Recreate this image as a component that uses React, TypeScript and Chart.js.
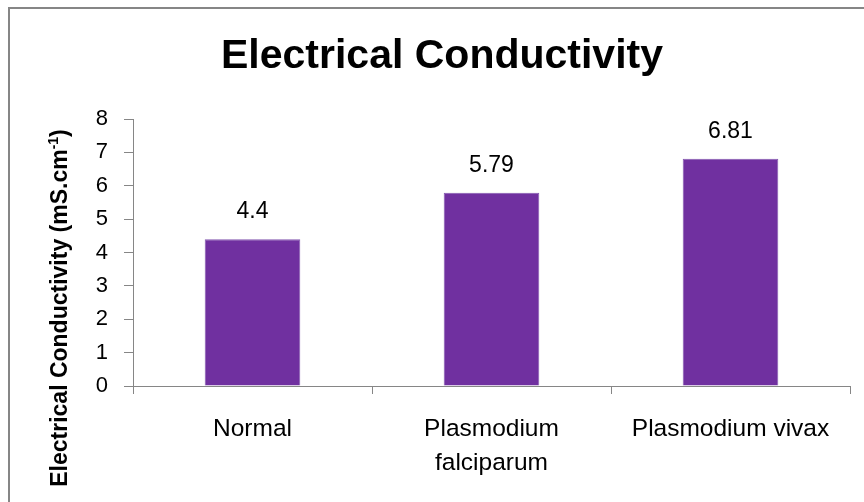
import React, { useEffect, useRef } from "react";
import { Chart, registerables } from "chart.js";

Chart.register(...registerables);

const chartTitle = "Electrical Conductivity";
const yAxisTitleMain = "Electrical Conductivity (mS.cm";
const yAxisTitleSup = "-1";
const yAxisTitleEnd = ")";
const categoryLabels: (string | string[])[] = [
  "Normal",
  ["Plasmodium", "falciparum"],
  "Plasmodium vivax",
];
const conductivityValues = [4.4, 5.79, 6.81];
const valueLabels = ["4.4", "5.79", "6.81"];
const yTickMin = 0;
const yTickMax = 8;
const yTickStep = 1;

const FONT = "'Liberation Sans', Arial, sans-serif";
const GRAY = "#868686";
const PURPLE = "#7030A0";

const decorPlugin = {
  id: "decor",
  beforeDraw(chart: any) {
    const ctx = chart.ctx;
    ctx.save();
    ctx.fillStyle = "#ffffff";
    ctx.fillRect(0, 0, chart.width, chart.height);
    // outer chart border (left and top visible)
    ctx.strokeStyle = GRAY;
    ctx.lineWidth = 2;
    ctx.beginPath();
    ctx.moveTo(9, chart.height + 2);
    ctx.lineTo(9, 8);
    ctx.lineTo(chart.width + 2, 8);
    ctx.stroke();
    ctx.restore();
  },
  afterDraw(chart: any) {
    const ctx = chart.ctx;
    ctx.save();
    // chart title
    ctx.fillStyle = "#000";
    ctx.font = `bold 41px ${FONT}`;
    ctx.textAlign = "center";
    ctx.textBaseline = "alphabetic";
    ctx.fillText(chartTitle, 442, 68);

    // y axis title rotated with superscript
    const mainFont = `bold 23px ${FONT}`;
    const supFont = `bold 14px ${FONT}`;
    ctx.font = mainFont;
    const w1 = ctx.measureText(yAxisTitleMain).width;
    const w3 = ctx.measureText(yAxisTitleEnd).width;
    ctx.font = supFont;
    const w2 = ctx.measureText(yAxisTitleSup).width;
    const total = w1 + w2 + w3;
    ctx.translate(67, 308);
    ctx.rotate(-Math.PI / 2);
    ctx.textAlign = "left";
    let x = -total / 2;
    ctx.font = mainFont;
    ctx.fillText(yAxisTitleMain, x, 0);
    x += w1;
    ctx.font = supFont;
    ctx.fillText(yAxisTitleSup, x, -9);
    x += w2;
    ctx.font = mainFont;
    ctx.fillText(yAxisTitleEnd, x, 0);
    ctx.restore();

    // data labels above bars
    const meta = chart.getDatasetMeta(0);
    ctx.save();
    ctx.fillStyle = "#000";
    ctx.font = `23px ${FONT}`;
    ctx.textAlign = "center";
    ctx.textBaseline = "middle";
    meta.data.forEach((bar: any, i: number) => {
      ctx.fillText(valueLabels[i], bar.x, bar.y - 27);
    });
    ctx.restore();
  },
};

export default function App() {
  const canvasRef = useRef<HTMLCanvasElement | null>(null);

  useEffect(() => {
    const canvas = canvasRef.current;
    if (!canvas) return;
    const chart = new Chart(canvas, {
      type: "bar",
      data: {
        labels: categoryLabels,
        datasets: [
          {
            data: conductivityValues,
            backgroundColor: PURPLE,
            borderColor: "#8458b0",
            borderWidth: 1,
            categoryPercentage: 1,
            barPercentage: 0.4,
          },
        ],
      },
      plugins: [decorPlugin],
      options: {
        animation: false,
        responsive: false,
        devicePixelRatio: 1,
        layout: { padding: { left: 0, top: 119, right: 14, bottom: 0 } },
        plugins: {
          legend: { display: false },
          title: { display: false },
          tooltip: { enabled: false },
        },
        scales: {
          x: {
            afterFit: (scale: any) => {
              scale.height = 116;
            },
            grid: {
              display: true,
              offset: true,
              drawOnChartArea: false,
              drawTicks: true,
              tickLength: 8,
              color: GRAY,
            },
            border: { display: true, color: GRAY, width: 1 },
            ticks: {
              color: "#000",
              padding: 18,
              maxRotation: 0,
              autoSkip: false,
              font: { family: FONT, size: 24.5, lineHeight: 34 / 24.5 },
            },
          },
          y: {
            min: yTickMin,
            max: yTickMax,
            afterFit: (scale: any) => {
              scale.width = 133;
            },
            grid: {
              display: true,
              drawOnChartArea: false,
              drawTicks: true,
              tickLength: 9,
              color: GRAY,
            },
            border: { display: true, color: GRAY, width: 1 },
            ticks: {
              stepSize: yTickStep,
              color: "#000",
              padding: 16,
              font: { family: FONT, size: 22 },
            },
          },
        },
      },
    });
    return () => chart.destroy();
  }, []);

  return (
    <div style={{ position: "fixed", left: 0, top: 0, width: 864, height: 502, background: "#fff" }}>
      <canvas ref={canvasRef} width={864} height={502} style={{ display: "block", width: 864, height: 502 }} />
    </div>
  );
}
